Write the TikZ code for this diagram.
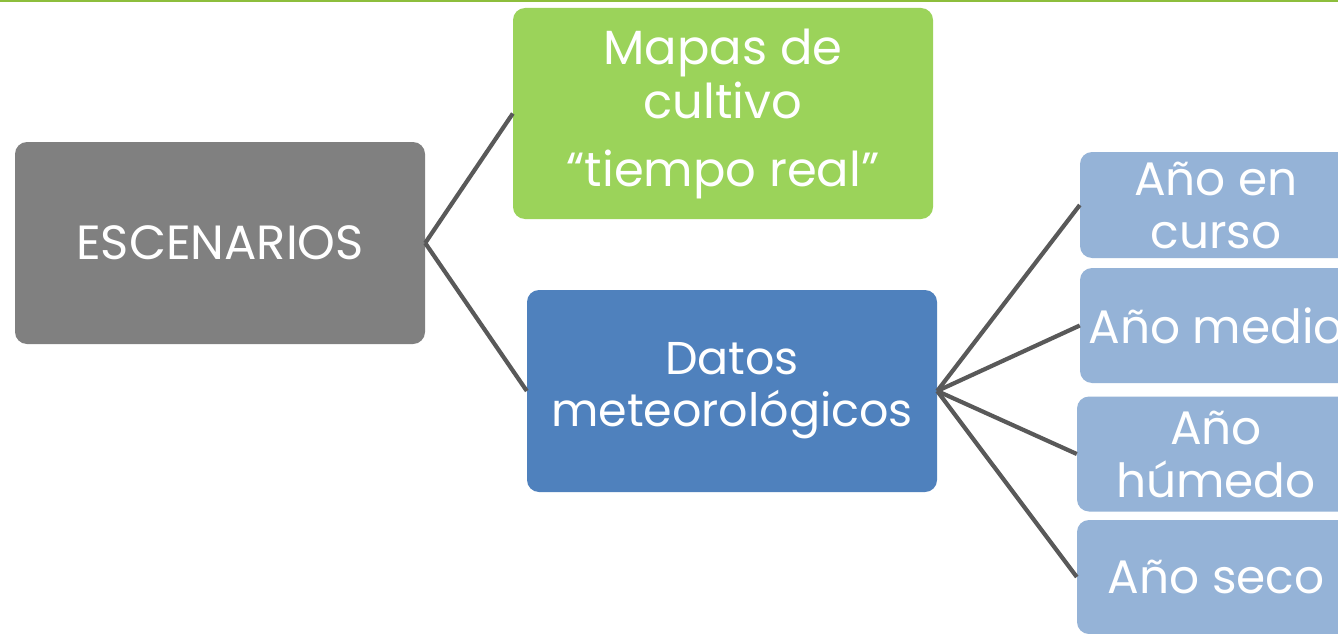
\documentclass[tikz,border=0pt]{standalone}
\usepackage{fontspec}
\setmainfont{Poppins}
\definecolor{escgray}{HTML}{808080}
\definecolor{mapgreen}{HTML}{9BD35A}
\definecolor{datblue}{HTML}{4F81BD}
\definecolor{anoblue}{HTML}{95B3D7}
\definecolor{linkgray}{HTML}{595959}
\definecolor{topgreen}{HTML}{8DBE3C}
\begin{document}
\begin{tikzpicture}[x=1pt, y=-1pt,
  box/.style={rectangle, rounded corners=12pt, text=white, align=center, inner sep=0pt,
    font=\fontsize{48}{54}\selectfont},
  anobox/.style={box, fill=anoblue, minimum width=272pt, font=\fontsize{47}{53}\selectfont},
  link/.style={draw=linkgray, line width=4.2pt}]
\clip (0,0) rectangle (1338,634);
\fill[white] (0,0) rectangle (1338,634);
\fill[topgreen] (0,0) rectangle (1338,2.5);
\node[box, fill=escgray, minimum width=410pt, minimum height=202pt] (esc) at (220,243){ESCENARIOS};
\node[box, fill=mapgreen, minimum width=420pt, minimum height=211pt] (mapas) at (723,113.5){Mapas de\\cultivo\\[14pt]“tiempo real”};
\node[box, fill=datblue, minimum width=410pt, minimum height=202pt, font=\fontsize{46}{52}\selectfont] (datos) at (732,391){Datos\\meteorológicos};
\node[anobox, minimum height=106pt] (ano1) at (1216,205){Año en\\curso};
\node[anobox, minimum height=115pt] (ano2) at (1216,325.5){Año medio};
\node[anobox, minimum height=115pt, minimum width=278pt] (ano3) at (1216,454){Año\\húmedo};
\node[anobox, minimum height=114pt, minimum width=278pt] (ano4) at (1216,577){Año seco};
\draw[link](esc.east) -- (mapas.west);
\draw[link](esc.east) -- (datos.west);
\draw[link](datos.east) -- (ano1.west);
\draw[link](datos.east) -- (ano2.west);
\draw[link](datos.east) -- (ano3.west);
\draw[link](datos.east) -- (ano4.west);

\end{tikzpicture}
\end{document}
